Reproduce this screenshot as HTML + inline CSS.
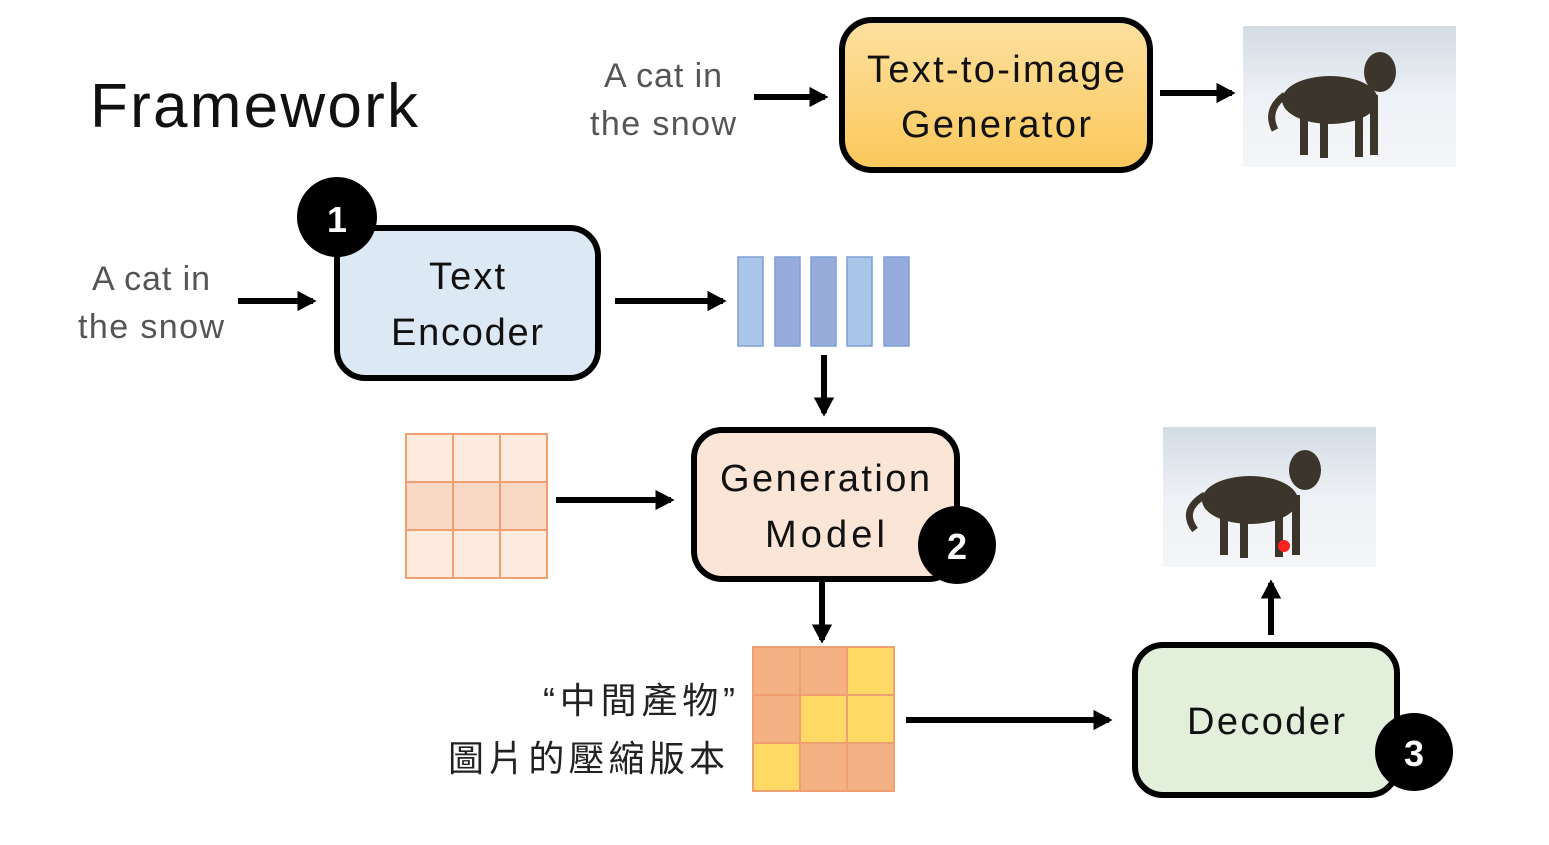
<!DOCTYPE html>
<html><head><meta charset="utf-8"><style>
body{margin:0;background:#fff;}
svg text{font-family:"Liberation Sans","Noto Sans CJK TC",sans-serif;}
</style></head><body>
<svg width="1549" height="840" viewBox="0 0 1549 840" xmlns="http://www.w3.org/2000/svg">
<defs>
<marker id="ah" markerWidth="5" markerHeight="5" refX="2.6" refY="2" orient="auto" markerUnits="strokeWidth"><path d="M0,0.3 L3.2,2 L0,3.7z" fill="#000"/></marker>
<linearGradient id="og" x1="0" y1="0" x2="0" y2="1"><stop offset="0" stop-color="#fde0a0"/><stop offset="1" stop-color="#fbc85a"/></linearGradient>
<linearGradient id="snow" x1="0" y1="0" x2="0" y2="1"><stop offset="0" stop-color="#d3dbe4"/><stop offset="0.5" stop-color="#eef1f5"/><stop offset="1" stop-color="#f5f6f8"/></linearGradient>
</defs>
<text x="90" y="127" font-size="62" fill="#111" textLength="328">Framework</text>
<g font-size="34" fill="#555" text-anchor="middle">
<text x="663" y="87" textLength="118">A cat in</text><text x="663" y="135" textLength="146">the snow</text>
<text x="151" y="290" textLength="118">A cat in</text><text x="151" y="338" textLength="146">the snow</text>
</g>
<g stroke="#000" stroke-width="6" marker-end="url(#ah)">
<line x1="754" y1="97" x2="825" y2="97"/>
<line x1="1160" y1="93" x2="1232" y2="93"/>
<line x1="238" y1="301" x2="313" y2="301"/>
<line x1="615" y1="301" x2="723" y2="301"/>
<line x1="824" y1="355" x2="824" y2="413"/>
<line x1="556" y1="500" x2="671" y2="500"/>
<line x1="822" y1="580" x2="822" y2="640"/>
<line x1="906" y1="720" x2="1109" y2="720"/>
<line x1="1271" y1="635" x2="1271" y2="583"/>
</g>
<rect x="842" y="20" width="308" height="150" rx="30" fill="url(#og)" stroke="#000" stroke-width="6"/>
<g font-size="38" fill="#111" text-anchor="middle">
<text x="996" y="82" textLength="258">Text-to-image</text><text x="996" y="137" textLength="190">Generator</text></g>
<rect x="1243" y="26" width="213" height="141" fill="url(#snow)"/>
<g fill="#3b352c"><ellipse cx="1330" cy="100" rx="48" ry="24"/><ellipse cx="1380" cy="72" rx="16" ry="20"/><rect x="1300" y="105" width="8" height="50"/><rect x="1320" y="110" width="8" height="48"/><rect x="1355" y="105" width="8" height="52"/><rect x="1370" y="95" width="8" height="60"/><path d="M1285,95 Q1265,110 1275,130" stroke="#3b352c" stroke-width="7" fill="none"/></g>
<rect x="337" y="228" width="261" height="150" rx="28" fill="#dce8f4" stroke="#000" stroke-width="6"/>
<g font-size="38" fill="#111" text-anchor="middle"><text x="467" y="289" textLength="76">Text</text><text x="467" y="345" textLength="152">Encoder</text></g>
<circle cx="337" cy="217" r="40" fill="#000"/><text x="337" y="232" font-size="36" font-weight="bold" fill="#fff" text-anchor="middle">1</text>
<g stroke="#7f9fd4" stroke-width="1.5">
<rect x="738" y="257" width="25" height="89" fill="#a9c6e8"/>
<rect x="775" y="257" width="25" height="89" fill="#98acdc"/>
<rect x="811" y="257" width="25" height="89" fill="#98acdc"/>
<rect x="847" y="257" width="25" height="89" fill="#a9c6e8"/>
<rect x="884" y="257" width="25" height="89" fill="#98acdc"/>
</g>
<rect x="694" y="430" width="263" height="149" rx="28" fill="#fbe5d6" stroke="#000" stroke-width="6"/>
<g font-size="38" fill="#111" text-anchor="middle"><text x="825" y="491" textLength="210">Generation</text><text x="825" y="547" textLength="120">Model</text></g>
<circle cx="957" cy="545" r="39" fill="#000"/><text x="957" y="559" font-size="36" font-weight="bold" fill="#fff" text-anchor="middle">2</text>
<g stroke="#f0a070" stroke-width="2">
<rect x="406" y="434" width="47" height="48" fill="#fdebe0"/><rect x="453" y="434" width="47" height="48" fill="#fdebe0"/><rect x="500" y="434" width="47" height="48" fill="#fdebe0"/>
<rect x="406" y="482" width="47" height="48" fill="#f9d8c6"/><rect x="453" y="482" width="47" height="48" fill="#f9d8c6"/><rect x="500" y="482" width="47" height="48" fill="#f9d8c6"/>
<rect x="406" y="530" width="47" height="48" fill="#fdebe0"/><rect x="453" y="530" width="47" height="48" fill="#fdebe0"/><rect x="500" y="530" width="47" height="48" fill="#fdebe0"/>
</g>
<g stroke="#f0a070" stroke-width="2">
<rect x="753" y="647" width="47" height="48" fill="#f4b183"/><rect x="800" y="647" width="47" height="48" fill="#f4b183"/><rect x="847" y="647" width="47" height="48" fill="#ffd966"/>
<rect x="753" y="695" width="47" height="48" fill="#f4b183"/><rect x="800" y="695" width="47" height="48" fill="#ffd966"/><rect x="847" y="695" width="47" height="48" fill="#ffd966"/>
<rect x="753" y="743" width="47" height="48" fill="#ffd966"/><rect x="800" y="743" width="47" height="48" fill="#f4b183"/><rect x="847" y="743" width="47" height="48" fill="#f4b183"/>
</g>
<g font-size="36" fill="#222"><text x="543" y="713" textLength="192">“中間產物”</text><text x="448" y="771" textLength="277">圖片的壓縮版本</text></g>
<rect x="1135" y="645" width="262" height="150" rx="28" fill="#e2efda" stroke="#000" stroke-width="6"/>
<text x="1266" y="734" font-size="38" fill="#111" text-anchor="middle" textLength="158">Decoder</text>
<circle cx="1414" cy="752" r="39" fill="#000"/><text x="1414" y="766" font-size="36" font-weight="bold" fill="#fff" text-anchor="middle">3</text>
<rect x="1163" y="427" width="213" height="140" fill="url(#snow)"/>
<g fill="#3b352c"><ellipse cx="1250" cy="500" rx="48" ry="24"/><ellipse cx="1305" cy="470" rx="16" ry="20"/><rect x="1220" y="505" width="8" height="50"/><rect x="1240" y="510" width="8" height="48"/><rect x="1275" y="505" width="8" height="52"/><rect x="1292" y="495" width="8" height="60"/><path d="M1205,495 Q1180,510 1195,530" stroke="#3b352c" stroke-width="7" fill="none"/></g>
<circle cx="1284" cy="546" r="6" fill="#ff2020"/>
</svg>
</body></html>
